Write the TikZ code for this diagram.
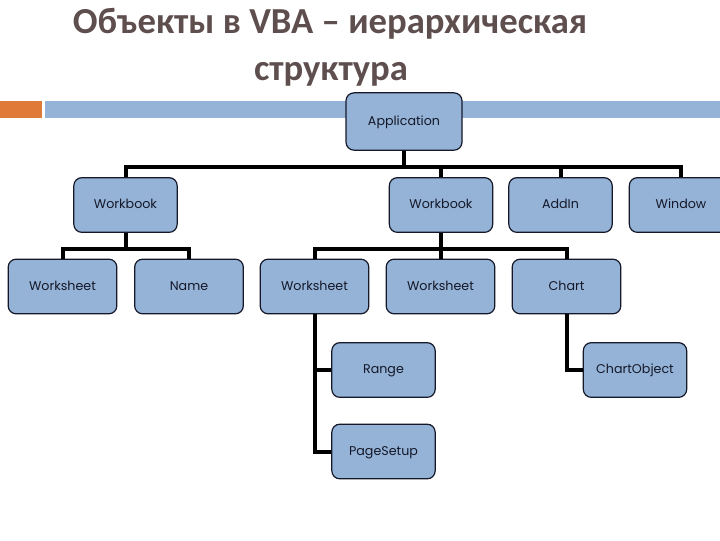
\documentclass[tikz,border=0pt]{standalone}
\usepackage{fontspec}
\newfontfamily\titlefont{Carlito}
\newfontfamily\boxfont{Poppins}
\definecolor{boxblue}{RGB}{149,179,215}
\definecolor{barorange}{RGB}{224,122,56}
\definecolor{titlegray}{RGB}{94,78,78}
\tikzset{every picture/.style={line width=0.75pt}}

\begin{document}
\begin{tikzpicture}[x=0.75pt,y=0.75pt,yscale=-1,xscale=1,
  obj/.style={draw={rgb,255:red,20;green,24;blue,40},line width=0.9pt,fill=boxblue,rounded corners=6pt,
    minimum width=77.5pt,minimum height=41pt,inner sep=0pt,text height=0.75em,text depth=0.2em,
    font=\boxfont\fontsize{9.5}{11}\selectfont,text={rgb,255:red,20;green,24;blue,40}},
  objw/.style={obj,minimum width=81.5pt},
  link/.style={line width=3pt,draw=black}]
\path[use as bounding box] (0,0) rectangle (720,540);
\clip (0,0) rectangle (720,540);

% Title
\node[anchor=base,text=titlegray,font=\titlefont\bfseries\fontsize{27.5}{32}\selectfont] (title1) at (330,33) {Объекты в VBA – иерархическая};
\node[anchor=base,text=titlegray,font=\titlefont\bfseries\fontsize{27.5}{32}\selectfont] (title2) at (331,80) {структура};

% Bar under title
\fill[barorange] (0,101) rectangle (42,118);
\fill[boxblue] (45,101) rectangle (720,118);

% Objects
\node[obj,minimum width=87pt,minimum height=43pt] (app) at (404,121.5) {Application};
\node[obj] (wb1) at (125.5,205) {Workbook};
\node[obj] (wb2) at (441,205) {Workbook};
\node[obj] (addin) at (560.5,205) {AddIn};
\node[obj] (win) at (681,205) {Window};
\node[objw] (ws1) at (62.5,286.5) {Worksheet};
\node[objw] (name) at (189,286.5) {Name};
\node[objw] (ws2) at (314.5,286.5) {Worksheet};
\node[objw] (ws3) at (440.5,286.5) {Worksheet};
\node[objw] (chart) at (566.5,286.5) {Chart};
\node[obj] (range) at (383.5,370) {Range};
\node[obj] (psetup) at (383.5,451.5) {PageSetup};
\node[obj] (chobj) at (635,370) {ChartObject};

% Connectors
\coordinate (bus1) at (0,167);
\coordinate (bus2) at (0,249);
\foreach \t in {wb1,wb2,addin,win}
  \draw[link] (app.south) -- (app.south |- bus1) -| (\t.north);
\foreach \t in {ws1,name}
  \draw[link] (wb1.south) -- (wb1.south |- bus2) -| (\t.north);
\foreach \t in {ws2,ws3,chart}
  \draw[link] (wb2.south) -- (wb2.south |- bus2) -| (\t.north);
\draw[link] (ws2.south) |- (range.west);
\draw[link] (ws2.south) |- (psetup.west);
\draw[link] (chart.south) |- (chobj.west);

\end{tikzpicture}
\end{document}
